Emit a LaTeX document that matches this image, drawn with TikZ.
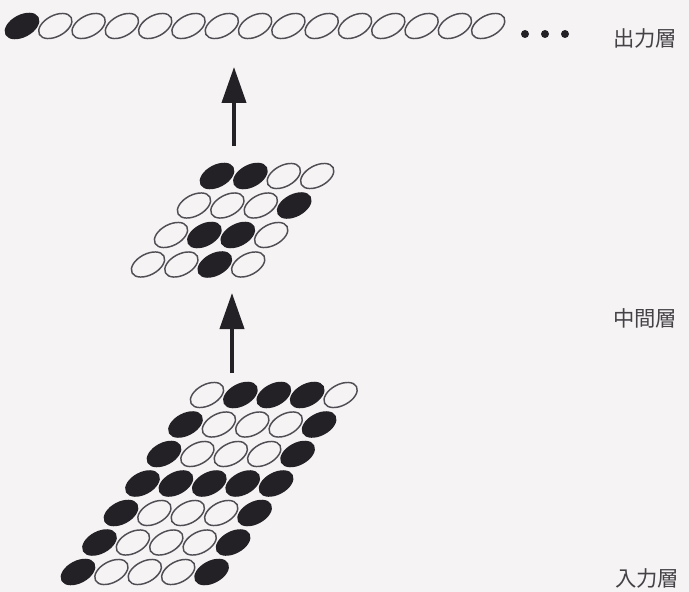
\documentclass[tikz,border=0pt]{standalone}
\usepackage{fontspec}
\newfontfamily\jpfont{Noto Sans CJK JP}
\usetikzlibrary{arrows.meta}
\definecolor{paper}{RGB}{245,243,243}
\definecolor{ink}{RGB}{35,32,38}
\definecolor{rim}{RGB}{80,78,84}
% fill / rim colour of a cell: 0 = open, 1 = firing
\colorlet{f0}{paper}
\colorlet{f1}{ink}
\colorlet{d0}{rim}
\colorlet{d1}{ink}
\tikzset{
  cell/.style={line width=1.1pt},
  layerarrow/.style={line width=3pt, draw=ink, -{Triangle[length=27pt,width=18pt,fill=ink]}},
  layerlabel/.style={anchor=west, inner sep=0.75pt, text=ink!85, font=\jpfont\fontsize{16}{16}\selectfont}
}

\begin{document}
\begin{tikzpicture}[x=0.75pt,y=0.75pt,yscale=-1,xscale=1]
%set diagram to 689 x 592
\path[fill=paper] (0,0) rectangle (689,592);

%Output layer: one row of cells
\foreach \b [count=\c from 0] in {1,0,0,0,0,0,0,0,0,0,0,0,0,0,0} {
  \pgfmathsetmacro\cx{22+33.3*\c}
  \draw[cell, draw=d\b, fill=f\b, rotate around={-28:(\cx,26)}] (\cx,26) ellipse [x radius=18, y radius=10.5];
}
%Dots
\foreach \dx in {525,545,565} {
  \fill[ink] (\dx,34) circle (4);
}

%Hidden layer: 4 x 4 cells
\foreach \r/\row in {0/{1,1,0,0},1/{0,0,0,1},2/{0,1,1,0},3/{0,0,1,0}} {
  \foreach \b [count=\c from 0] in \row {
    \pgfmathsetmacro\cx{217+33.4*\c-23*\r}
    \pgfmathsetmacro\cy{176+29.5*\r}
    \draw[cell, draw=d\b, fill=f\b, rotate around={-28:(\cx,\cy)}] (\cx,\cy) ellipse [x radius=18, y radius=10.5];
  }
}

%Input layer: 7 x 5 cells
\foreach \r/\row in {0/{0,1,1,1,0},1/{1,0,0,0,1},2/{1,0,0,0,1},3/{1,1,1,1,1},4/{1,0,0,0,1},5/{1,0,0,0,1},6/{1,0,0,0,1}} {
  \foreach \b [count=\c from 0] in \row {
    \pgfmathsetmacro\cx{207+33.4*\c-21.5*\r}
    \pgfmathsetmacro\cy{395+29.5*\r}
    \draw[cell, draw=d\b, fill=f\b, rotate around={-28:(\cx,\cy)}] (\cx,\cy) ellipse [x radius=18, y radius=10.5];
  }
}

%Arrow ends
\coordinate (hidtop) at (234,146);
\coordinate (outbot) at (234,67);
\coordinate (intop) at (232,373);
\coordinate (hidbot) at (232,293);
\draw[layerarrow] (hidtop) -- (outbot);
\draw[layerarrow] (intop) -- (hidbot);

% Text Node
\node[layerlabel] (outlabel) at (612,38) {出力層};
% Text Node
\node[layerlabel] (hidlabel) at (612,318) {中間層};
% Text Node
\node[layerlabel] (inlabel) at (614,578) {入力層};

\end{tikzpicture}
\end{document}
